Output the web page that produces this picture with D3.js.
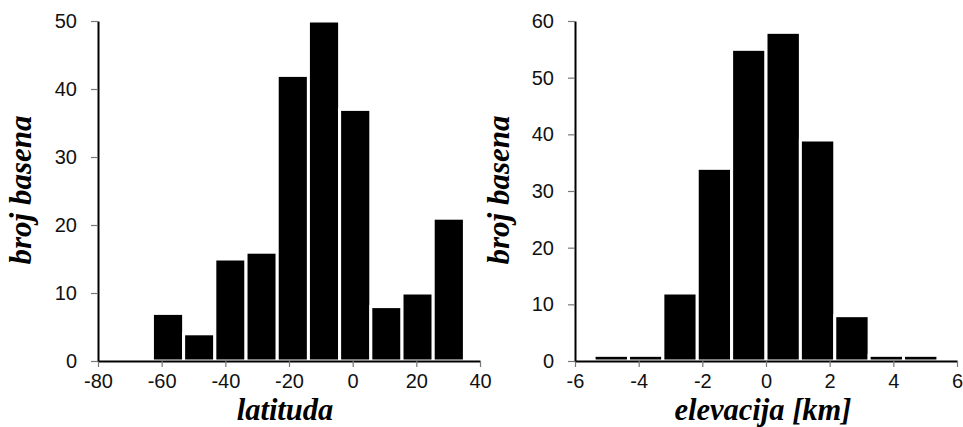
<!DOCTYPE html>
<html><head><meta charset="utf-8">
<script src="https://cdn.jsdelivr.net/npm/d3@7"></script>
<style>
html,body{margin:0;padding:0;background:#fff;}
</style></head>
<body><svg id="c" width="963" height="427"></svg>
<script>
// Left panel: latitude histogram
const latStart = -62.9, latBin = 9.8;
const latCounts = [7, 4, 15, 16, 42, 50, 37, 8, 10, 21];
const latXTicks = [-80, -60, -40, -20, 0, 20, 40];
const latYTicks = [0, 10, 20, 30, 40, 50];
// Right panel: elevation histogram
const elevStart = -5.4, elevBin = 1.08;
const elevCounts = [1, 1, 12, 34, 55, 58, 39, 8, 1, 1];
const elevXTicks = [-6, -4, -2, 0, 2, 4, 6];
const elevYTicks = [0, 10, 20, 30, 40, 50, 60];

const SANS = "Liberation Sans, Arial, sans-serif";
const SERIF = "Liberation Serif, Times New Roman, serif";
const svg = d3.select("#c");

function panel(cfg) {
  const x = d3.scaleLinear().domain(cfg.xDomain).range([cfg.x0, cfg.x1]);
  const y = d3.scaleLinear().domain(cfg.yDomain).range([cfg.y1, cfg.y0]);
  const g = svg.append("g");
  const bins = cfg.counts.map((c, i) => ({lo: cfg.start + i * cfg.bin, hi: cfg.start + (i + 1) * cfg.bin, c}));
  g.selectAll("rect.bar").data(bins).enter().append("rect")
    .attr("class", "bar")
    .attr("x", d => x(d.lo))
    .attr("width", d => x(d.hi) - x(d.lo))
    .attr("y", d => y(d.c))
    .attr("height", d => y(0) - y(d.c))
    .attr("fill", "#000")
    .attr("stroke", "#fff")
    .attr("stroke-width", 3);

  const fmt = d => String(d);
  const xa = g.append("g").attr("transform", `translate(0,${y(0)})`)
    .call(d3.axisBottom(x).tickValues(cfg.xTicks).tickSize(6).tickSizeOuter(0).tickPadding(7).tickFormat(fmt));
  const ya = g.append("g").attr("transform", `translate(${x(cfg.xDomain[0])},0)`)
    .call(d3.axisLeft(y).tickValues(cfg.yTicks).tickSize(7).tickSizeOuter(0).tickPadding(14).tickFormat(fmt));
  [xa, ya].forEach(a => {
    a.attr("font-size", 20).attr("font-family", SANS);
    a.select(".domain").attr("stroke", "#000").attr("stroke-width", 2);
    a.selectAll(".tick line").attr("stroke", "#777").attr("stroke-width", 1.2);
    a.selectAll(".tick text").attr("fill", "#111");
  });

  g.append("text")
    .attr("x", cfg.xTitleX).attr("y", 420.3)
    .attr("text-anchor", "middle")
    .attr("font-family", SERIF)
    .attr("font-weight", "bold").attr("font-style", "italic")
    .attr("font-size", 30.5)
    .text(cfg.xTitle);
  g.append("text")
    .attr("transform", `translate(${cfg.yTitleX},${(cfg.y0 + cfg.y1) / 2 - 1}) rotate(-90)`)
    .attr("text-anchor", "middle")
    .attr("font-family", SERIF)
    .attr("font-weight", "bold").attr("font-style", "italic")
    .attr("font-size", 31)
    .text(cfg.yTitle);
}

panel({x0: 98, x1: 480, y0: 21, y1: 361, xDomain: [-80, 40], yDomain: [0, 50],
  start: latStart, bin: latBin, counts: latCounts, xTicks: latXTicks, yTicks: latYTicks,
  xTitle: "latituda", xTitleX: 285, yTitle: "broj basena", yTitleX: 31});
panel({x0: 575, x1: 957, y0: 21, y1: 361, xDomain: [-6, 6], yDomain: [0, 60],
  start: elevStart, bin: elevBin, counts: elevCounts, xTicks: elevXTicks, yTicks: elevYTicks,
  xTitle: "elevacija [km]", xTitleX: 763, yTitle: "broj basena", yTitleX: 509});
</script></body></html>
